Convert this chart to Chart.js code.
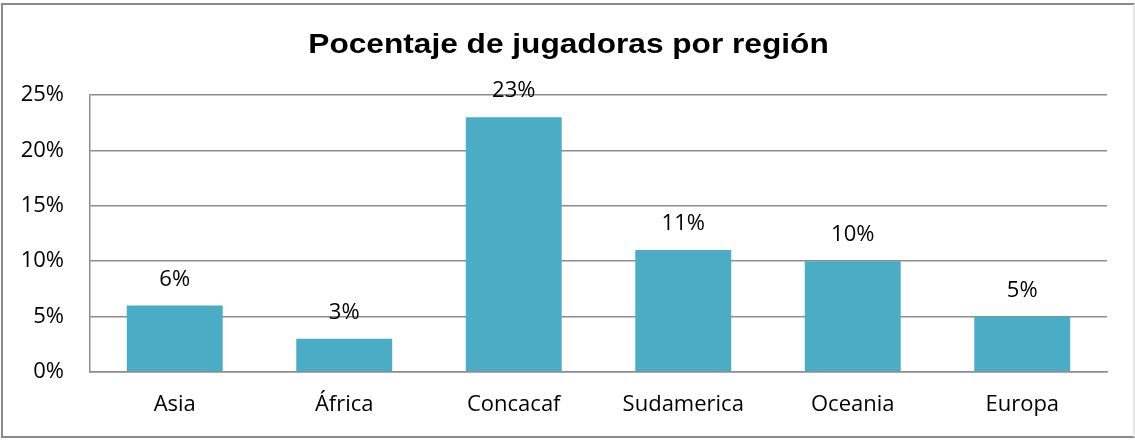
<!DOCTYPE html>
<html>
<head>
<meta charset="utf-8">
<script src="https://cdn.jsdelivr.net/npm/chart.js@4/dist/chart.umd.min.js"></script>
<style>
html,body{margin:0;padding:0;background:#fff;}
#wrap{position:relative;width:1135px;height:440px;}
#c{position:absolute;left:0;top:0;}
#frame{position:absolute;left:1px;top:3px;width:1134px;height:435px;box-sizing:border-box;border:2px solid #8a8a8a;border-right-color:#e6e6e6;pointer-events:none;}
</style>
</head>
<body>
<div id="wrap">
<canvas id="c" width="1135" height="440"></canvas>
<div id="frame"></div>
</div>
<script>
const chartTitle = 'Pocentaje de jugadoras por región';
const categories = ['Asia', 'África', 'Concacaf', 'Sudamerica', 'Oceania', 'Europa'];
const percentValues = [6, 3, 23, 11, 10, 5];
const yTickValues = [0, 5, 10, 15, 20, 25];

const labelFont = {family: "'Open Sans', sans-serif", size: 22};
const gridColor = '#8c8c8c';

const valueLabels = {
  id: 'valueLabels',
  afterDatasetsDraw(chart) {
    const ctx = chart.ctx;
    const meta = chart.getDatasetMeta(0);
    ctx.save();
    ctx.font = `${labelFont.size}px ${labelFont.family}`;
    ctx.fillStyle = '#000';
    ctx.textAlign = 'center';
    ctx.textBaseline = 'alphabetic';
    meta.data.forEach((bar, i) => {
      ctx.fillText(percentValues[i] + '%', bar.x, bar.y - 20);
    });
    ctx.restore();
  }
};

const titleText = {
  id: 'titleText',
  afterDraw(chart) {
    const ctx = chart.ctx;
    ctx.save();
    ctx.font = "bold 28px 'Liberation Sans', Arial, sans-serif";
    ctx.fillStyle = '#000';
    ctx.textAlign = 'center';
    ctx.textBaseline = 'alphabetic';
    const sx = 1.13;
    ctx.translate(568.5, 53);
    ctx.scale(sx, 1);
    ctx.fillText(chartTitle, 0, 0);
    ctx.restore();
  }
};

new Chart(document.getElementById('c'), {
  type: 'bar',
  data: {
    labels: categories,
    datasets: [{
      data: percentValues,
      backgroundColor: '#4bacc6',
      borderWidth: 0,
      categoryPercentage: 1.0,
      barPercentage: 0.566
    }]
  },
  options: {
    responsive: false,
    animation: false,
    devicePixelRatio: 1,
    layout: {padding: {left: 0, right: 28, top: 95, bottom: 0}},
    plugins: {
      legend: {display: false},
      tooltip: {enabled: false},
      title: {display: false}
    },
    scales: {
      x: {
        grid: {display: false, drawTicks: false},
        border: {display: true, color: gridColor, width: 1.5},
        ticks: {color: '#000', font: labelFont, padding: 20},
        afterFit(scale) { scale.height = 68; }
      },
      y: {
        min: 0,
        max: 25,
        afterBuildTicks(scale) { scale.ticks = yTickValues.map(v => ({value: v})); },
        grid: {color: gridColor, lineWidth: 1.5, drawTicks: false},
        border: {display: true, color: gridColor, width: 1.5},
        ticks: {color: '#000', font: labelFont, padding: 26, callback: v => v + '%'},
        afterFit(scale) { scale.width = 90; }
      }
    }
  },
  plugins: [valueLabels, titleText]
});
</script>
</body>
</html>
